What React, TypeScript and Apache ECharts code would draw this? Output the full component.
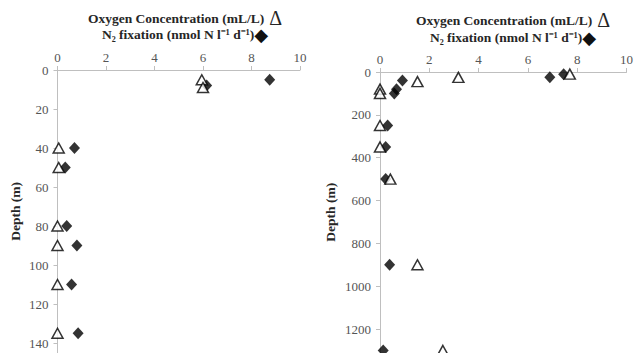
import React, { useEffect, useRef } from "react";
import * as echarts from "echarts";

// Left profile
const leftO2Depth = [5, 9, 40, 50, 80, 90, 110, 135];
const leftO2 = [5.95, 6.0, 0.05, 0.05, 0, 0, 0, 0];
const leftN2Depth = [5, 8, 40, 50, 80, 90, 110, 135];
const leftN2 = [8.75, 6.15, 0.7, 0.32, 0.38, 0.8, 0.58, 0.85];

// Right profile
const rightO2Depth = [10, 25, 45, 80, 100, 250, 350, 500, 900, 1300];
const rightO2 = [7.7, 3.18, 1.52, 0, 0, 0, 0, 0.42, 1.52, 2.55];
const rightN2Depth = [10, 25, 40, 80, 100, 250, 350, 500, 900, 1300];
const rightN2 = [7.45, 6.89, 0.91, 0.67, 0.58, 0.31, 0.23, 0.23, 0.39, 0.13];

const titleLine1 = "Oxygen Concentration (mL/L)";
const titleLine2 = "N₂ fixation (nmol N l⁻¹ d⁻¹)";
const yName = "Depth (m)";

const FONT = "Liberation Serif";
const AXIS_COLOR = "#bfbfbf";
const LABEL_COLOR = "#555555";

function pairs(xs: number[], ys: number[]) {
  return xs.map((x, i) => [x, ys[i]]);
}

export default function App() {
  const ref = useRef<HTMLDivElement>(null);
  useEffect(() => {
    const chart = echarts.init(ref.current!, null, { renderer: "svg" });
    const xAxisBase = (gridIndex: number) => ({
      gridIndex,
      type: "value",
      position: "top",
      min: 0,
      max: 10,
      interval: 2,
      axisLine: { show: true, lineStyle: { color: AXIS_COLOR, width: 1 } },
      axisTick: { show: true, length: 4, lineStyle: { color: AXIS_COLOR } },
      axisLabel: { color: LABEL_COLOR, fontFamily: FONT, fontSize: 13, margin: 6 },
      splitLine: { show: false },
    });
    const yAxisBase = (gridIndex: number, max: number, interval: number, nameGap: number) => ({
      gridIndex,
      type: "value",
      inverse: true,
      min: 0,
      max,
      interval,
      name: yName,
      nameLocation: "middle",
      nameGap,
      nameRotate: 90,
      nameTextStyle: { color: "#262626", fontFamily: FONT, fontSize: 13.5, fontWeight: "bold" },
      axisLine: { show: true, onZero: false, lineStyle: { color: AXIS_COLOR, width: 1 } },
      axisTick: { show: true, length: 4, lineStyle: { color: AXIS_COLOR } },
      axisLabel: {
        color: LABEL_COLOR,
        fontFamily: FONT,
        fontSize: 13,
        margin: 9,
        showMaxLabel: false,
        formatter: (v: number) => String(v),
      },
      splitLine: { show: false },
    });
    const rich = {
      t: { fontFamily: FONT, fontSize: 13.5, fontWeight: "bold", color: "#262626" },
      d: { fontFamily: FONT, fontSize: 20, fontWeight: "normal", color: "#262626" },
      k: { fontFamily: "DejaVu Sans", fontSize: 18, fontWeight: "normal", color: "#111" },
    };
    const makeTitle = (cx: number, y1: number, y2: number) => [
      {
        text: `{t|${titleLine1}} {d|Δ}`,
        left: cx,
        top: y1,
        textAlign: "center",
        padding: 0,
        textStyle: { rich },
      },
      {
        text: `{t|${titleLine2}}{k|◆}`,
        left: cx,
        top: y2,
        textAlign: "center",
        padding: 0,
        textStyle: { rich },
      },
    ];
    const triStyle = { color: "#ffffff", borderColor: "#000000", borderWidth: 1.5 };
    const diaStyle = { color: "#000000" };
    chart.setOption({
      animation: false,
      backgroundColor: "#ffffff",
      title: [...makeTitle(185, 8, 25), ...makeTitle(513, 10, 28)],
      grid: [
        { left: 57.5, top: 70, width: 242.5, height: 282.75 },
        { left: 380, top: 72, width: 249, height: 280.6 },
      ],
      xAxis: [xAxisBase(0), xAxisBase(1)],
      yAxis: [yAxisBase(0, 145, 20, 35), yAxisBase(1, 1310, 200, 43)],
      series: [
        {
          type: "scatter",
          xAxisIndex: 0,
          yAxisIndex: 0,
          symbol: "diamond",
          symbolSize: [11, 12],
          itemStyle: diaStyle,
          data: pairs(leftN2, leftN2Depth),
        },
        {
          type: "scatter",
          xAxisIndex: 0,
          yAxisIndex: 0,
          symbol: "triangle",
          symbolSize: [11, 10],
          itemStyle: triStyle,
          data: pairs(leftO2, leftO2Depth),
        },
        {
          type: "scatter",
          xAxisIndex: 1,
          yAxisIndex: 1,
          symbol: "diamond",
          symbolSize: [11, 12],
          itemStyle: diaStyle,
          data: pairs(rightN2, rightN2Depth),
        },
        {
          type: "scatter",
          xAxisIndex: 1,
          yAxisIndex: 1,
          symbol: "triangle",
          symbolSize: [11, 10],
          itemStyle: triStyle,
          data: pairs(rightO2, rightO2Depth),
        },
      ],
    });
    return () => chart.dispose();
  }, []);
  return <div ref={ref} style={{ width: 636, height: 353, position: "absolute", left: 0, top: 0 }} />;
}
